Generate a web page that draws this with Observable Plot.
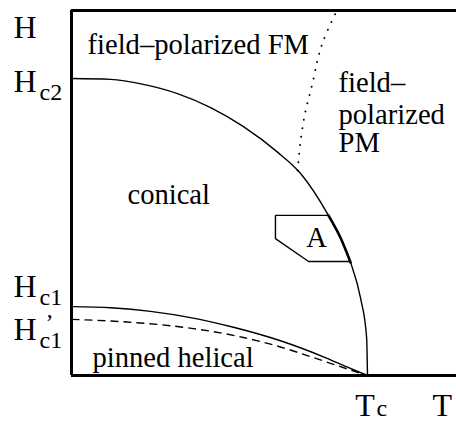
<!DOCTYPE html>
<html>
<head>
<meta charset="utf-8">
<script src="https://cdn.jsdelivr.net/npm/d3@7"></script>
<script src="https://cdn.jsdelivr.net/npm/@observablehq/plot@0.6"></script>
<style>
  html, body { margin: 0; padding: 0; background: #fff; }
</style>
</head>
<body>
<div id="chart"></div>
<script>
// Phase boundaries (T in units of Tc, H in units of Hc2)
const hc2T = [0, 0.132, 0.243, 0.358, 0.470, 0.581, 0.696, 0.774, 0.868, 0.910, 0.943, 0.976, 0.997, 1.0];
const hc2H = [1.0, 0.997, 0.980, 0.949, 0.902, 0.838, 0.752, 0.680, 0.539, 0.461, 0.380, 0.263, 0.128, 0];

const hc1T = [0, 0.132, 0.267, 0.402, 0.537, 0.706, 0.851, 0.926, 1.0];
const hc1H = [0.232, 0.228, 0.216, 0.195, 0.165, 0.117, 0.063, 0.031, 0];

const hc1pT = [0, 0.189, 0.412, 0.581, 0.706, 0.818, 0.932, 1.0];
const hc1pH = [0.189, 0.180, 0.158, 0.128, 0.096, 0.060, 0.022, 0];

const fmpmT = [0.764, 0.774, 0.791, 0.814, 0.831, 0.851, 0.892];
const fmpmH = [0.690, 0.791, 0.892, 0.983, 1.061, 1.128, 1.219];

// A-phase pocket
const aT = [0.868, 0.689, 0.689, 0.801, 0.943];
const aH = [0.539, 0.539, 0.461, 0.384, 0.384];
const aEdgeT = [0.868, 0.910, 0.943];
const aEdgeH = [0.539, 0.461, 0.380];

// Frame extents
const tMax = 1.3007;
const hMax = 1.229;

// Region labels
const regionText = ["field\u2013polarized FM", "field\u2013", "polarized", "PM", "conical", "pinned helical"];
const regionT = [0.054, 0.902, 0.902, 0.902, 0.189, 0.071];
const regionH = [1.084, 0.953, 0.848, 0.751, 0.579, 0.030];

// Axis symbols (big) and subscripts (small)
const symText = ["H", "H", "H", "H", "T", "T"];
const symT = [-0.196, -0.196, -0.196, -0.196, 0.959, 1.220];
const symH = [1.138, 0.956, 0.263, 0.121, -0.135, -0.135];

const subText = ["c2", "c1", " \u2019\nc1", "c"];
const subT = [-0.108, -0.108, -0.108, 1.030];
const subH = [0.926, 0.236, 0.091, -0.138];

const toPts = (T, H) => T.map((t, i) => ({T: t, H: H[i]}));
const toLbl = (s, T, H) => s.map((t, i) => ({text: t, T: T[i], H: H[i]}));

const font = "Liberation Serif";

const chart = Plot.plot({
  width: 456,
  height: 422,
  margin: 0,
  x: {domain: [0, 1], range: [71, 367], axis: null},
  y: {domain: [0, 1], range: [375, 78], axis: null},
  style: {background: "#fff", overflow: "visible", fontFamily: font},
  marks: [
    // frame
    Plot.ruleY([0], {x1: 0, x2: tMax, stroke: "#000", strokeWidth: 3}),
    Plot.ruleY([hMax], {x1: 0, x2: tMax, stroke: "#000", strokeWidth: 3}),
    Plot.ruleX([0], {y1: 0, y2: hMax, stroke: "#000", strokeWidth: 3}),
    // boundaries
    Plot.line(toPts(hc2T, hc2H), {x: "T", y: "H", curve: "monotone-x", stroke: "#000", strokeWidth: 1.4}),
    Plot.line(toPts(aEdgeT, aEdgeH), {x: "T", y: "H", curve: "monotone-x", stroke: "#000", strokeWidth: 2.6}),
    Plot.line(toPts(aT, aH), {x: "T", y: "H", stroke: "#000", strokeWidth: 1.4, strokeLinejoin: "miter"}),
    Plot.line(toPts(hc1T, hc1H), {x: "T", y: "H", curve: "monotone-x", stroke: "#000", strokeWidth: 1.4}),
    Plot.line(toPts(hc1pT, hc1pH), {x: "T", y: "H", curve: "monotone-x", stroke: "#000", strokeWidth: 1.4, strokeDasharray: "8,5", strokeLinecap: "butt"}),
    Plot.line(toPts(fmpmT, fmpmH), {x: "T", y: "H", curve: "catmull-rom", stroke: "#000", strokeWidth: 2, strokeDasharray: "0,8.5", strokeLinecap: "round"}),
    // texts
    Plot.text(toLbl(regionText, regionT, regionH), {x: "T", y: "H", text: "text", textAnchor: "start", lineAnchor: "bottom", fontSize: 28.6, fontFamily: font, fill: "#000"}),
    Plot.text([{text: "A", T: 0.828, H: 0.431}], {x: "T", y: "H", text: "text", textAnchor: "middle", lineAnchor: "bottom", fontSize: 28.6, fontFamily: font, fill: "#000"}),
    Plot.text(toLbl(symText, symT, symH), {x: "T", y: "H", text: "text", textAnchor: "start", lineAnchor: "bottom", fontSize: 32, fontFamily: font, fill: "#000"}),
    Plot.text(toLbl(subText, subT, subH), {x: "T", y: "H", text: "text", textAnchor: "start", lineAnchor: "bottom", lineHeight: 0.75, fontSize: 24, fontFamily: font, fill: "#000"})
  ]
});
d3.select(chart).selectAll("text").attr("font-family", font).style("font-family", font);
document.getElementById("chart").appendChild(chart);
</script>
</body>
</html>
